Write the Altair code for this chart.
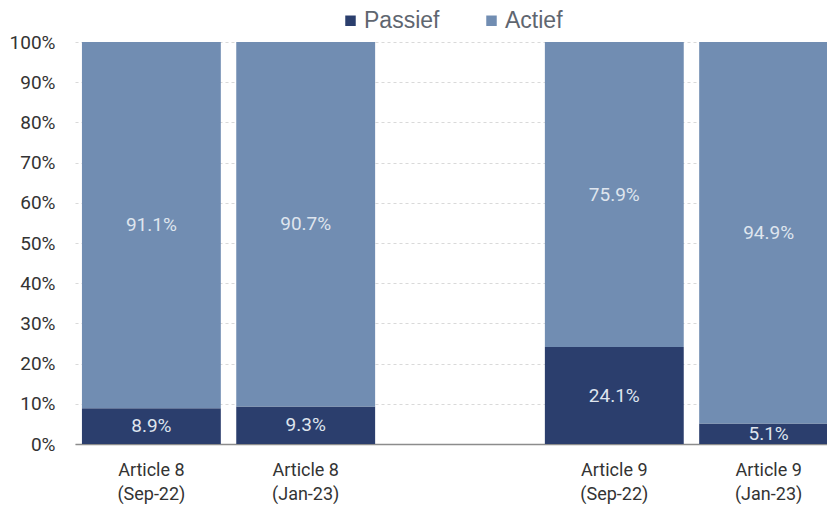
import altair as alt
import pandas as pd

categories = ["Article 8\n(Sep-22)", "Article 8\n(Jan-23)", "Article 9\n(Sep-22)", "Article 9\n(Jan-23)"]
domain = ["Article 8\n(Sep-22)", "Article 8\n(Jan-23)", " ", "Article 9\n(Sep-22)", "Article 9\n(Jan-23)"]
passief = [8.9, 9.3, 24.1, 5.1]
actief = [91.1, 90.7, 75.9, 94.9]
series = ["Passief", "Actief"]
colors = ["#2b3e6d", "#718db2"]

rows = []
for i, c in enumerate(categories):
    rows.append({"cat": c, "series": "Passief", "order": 0, "value": passief[i] / 100})
    rows.append({"cat": c, "series": "Actief", "order": 1, "value": actief[i] / 100})
df = pd.DataFrame(rows)

FONT = "Roboto"

x = alt.X("cat:N", scale=alt.Scale(domain=domain, range=[0, 770], paddingInner=0.1, paddingOuter=0.045),
          sort=domain,
          axis=alt.Axis(title=None, labelAngle=0, ticks=False, domainColor="#8c8c8c", domainWidth=1.5,
                        labelExpr="split(datum.label, '\\n')", labelFont=FONT, labelFontSize=18,
                        labelColor="#333333", labelPadding=17, labelLineHeight=24))

base = alt.Chart(df).transform_stack(
    stack="value", groupby=["cat"], as_=["y0", "y1"], sort=[alt.SortField("order")]
).transform_calculate(mid="(datum.y0 + datum.y1) / 2")

bars = base.mark_bar().encode(
    x=x,
    y=alt.Y("y0:Q", scale=alt.Scale(domain=[0, 1], nice=False),
            axis=alt.Axis(title=None, format=".0%", values=[i / 10 for i in range(11)], ticks=False,
                          domain=False, gridDash=[3, 3], gridColor="#d9d9d9", labelFont=FONT,
                          labelFontSize=19, labelColor="#333333", labelPadding=20)),
    y2="y1:Q",
    color=alt.Color("series:N", scale=alt.Scale(domain=series, range=colors), sort=series,
                    legend=alt.Legend(title=None, orient="none", legendX=264, legendY=-33, direction="horizontal",
                                      symbolType="square", symbolSize=110, symbolStrokeWidth=0,
                                      labelFont="Liberation Sans", labelFontSize=23, labelColor="#5f6670",
                                      labelOffset=2, columnPadding=40)),
)

text = base.mark_text(font=FONT, fontSize=19, color="#dfe5ee").encode(
    x=alt.X("cat:N", sort=domain),
    y=alt.Y("mid:Q"),
    text=alt.Text("value:Q", format=".1%"),
)

chart = alt.layer(bars, text).properties(
    width=752, height=402,
    autosize=alt.AutoSizeParams(type="none"),
    padding={"left": 67, "top": 34, "right": 0, "bottom": 60},
).configure_view(stroke=None)

chart.save("out.html", embed_options={"renderer": "svg", "actions": False})
